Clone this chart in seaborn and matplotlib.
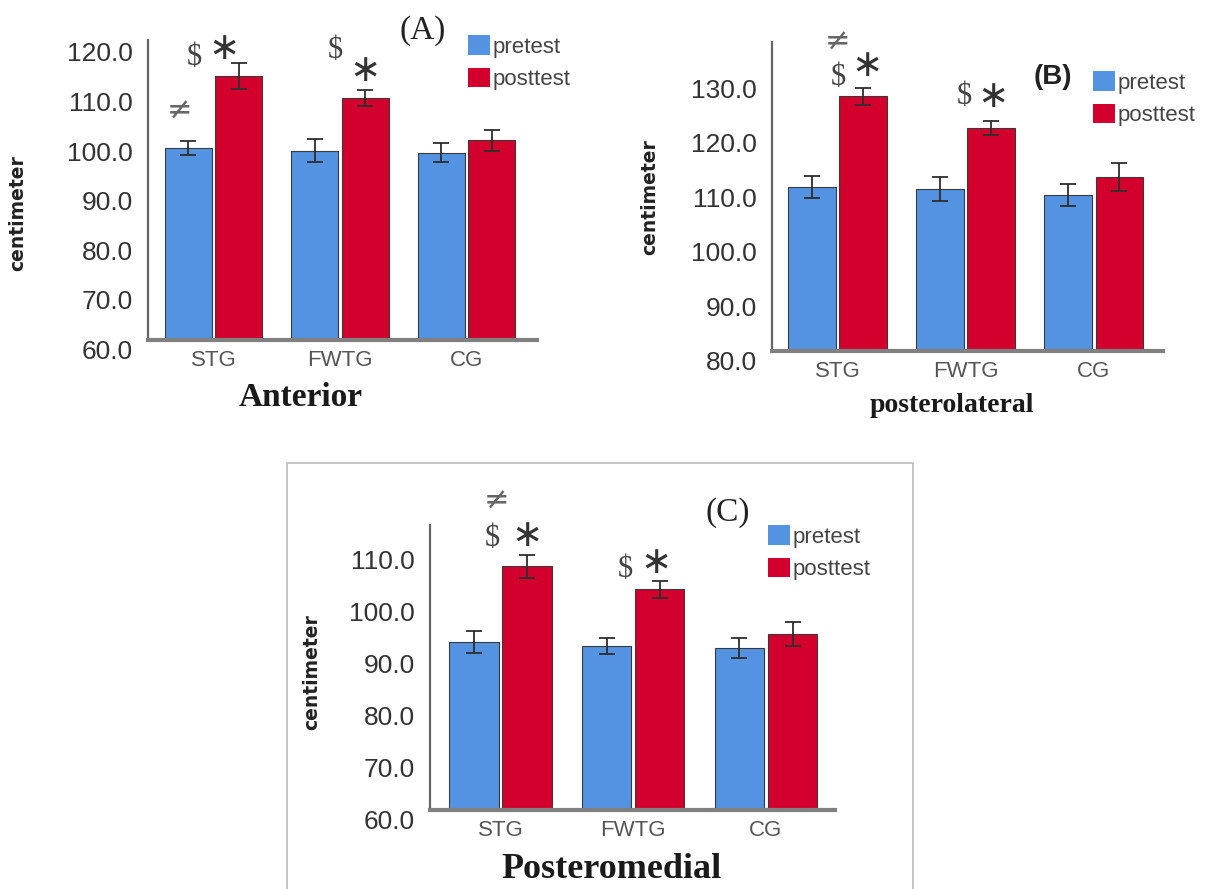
import numpy as np
import pandas as pd
import matplotlib
matplotlib.use("Agg")
import matplotlib.pyplot as plt
from matplotlib.patches import Patch, Rectangle
import seaborn as sns

# ---- data -------------------------------------------------------------
groups = ["STG", "FWTG", "CG"]
tests = ["pretest", "posttest"]

anterior_pre = [98.8, 98.2, 97.8]
anterior_post = [113.2, 108.8, 100.3]
anterior_pre_err = [1.4, 2.3, 2.0]
anterior_post_err = [2.6, 1.7, 2.1]

postlat_pre = [110.2, 109.7, 108.7]
postlat_post = [126.8, 121.0, 112.0]
postlat_pre_err = [2.0, 2.2, 2.0]
postlat_post_err = [1.5, 1.3, 2.6]

postmed_pre = [92.3, 91.6, 91.1]
postmed_post = [106.9, 102.4, 93.8]
postmed_pre_err = [2.1, 1.55, 1.9]
postmed_post_err = [2.2, 1.6, 2.35]

anterior_ticks = [60, 70, 80, 90, 100, 110, 120]
postlat_ticks = [80, 90, 100, 110, 120, 130]
postmed_ticks = [60, 70, 80, 90, 100, 110]

colors = {"pretest": "#5393E2", "posttest": "#D3002D"}

# ---- figure geometry (pixels) -----------------------------------------
W, H = 1209, 889
sns.set_style("white")
plt.rcParams["font.family"] = ["Liberation Sans", "DejaVu Sans"]

fig = plt.figure(figsize=(W / 100, H / 100), dpi=100)


def rect(x0, y0, x1, y1):
    return [x0 / W, 1 - y1 / H, (x1 - x0) / W, (y1 - y0) / H]


def fxy(x, y):
    return (x / W, 1 - y / H)


panels = [
    dict(pre=anterior_pre, post=anterior_post, pre_err=anterior_pre_err,
         post_err=anterior_post_err, ticks=anterior_ticks,
         box=(148, 40, 537, 340), xlim=(-0.52, 2.56), ylim=(60, 120.5),
         tag="(A)", tag_xy=(423, 31), tag_font=dict(family="Liberation Serif", size=24),
         legend_xy=(468, 35),
         xlabel="Anterior", xlabel_xy=(301, 398),
         xlabel_font=dict(family="Liberation Serif", size=24, weight="bold"),
         ylabel_xy=(18, 213),
         marks=[("\u2260", -0.27, 106.2), ("$", -0.15, 116.9), ("*", 0.08, 118.7),
                ("$", 0.96, 118.3), ("*", 1.20, 114.2)]),
    dict(pre=postlat_pre, post=postlat_post, pre_err=postlat_pre_err,
         post_err=postlat_post_err, ticks=postlat_ticks,
         box=(772, 42, 1163, 351), xlim=(-0.51, 2.54), ylim=(80, 136.8),
         tag="(B)", tag_xy=(1053, 77),
         tag_font=dict(family="Liberation Sans", size=20, weight="bold"),
         legend_xy=(1093, 71),
         xlabel="posterolateral", xlabel_xy=(952, 405),
         xlabel_font=dict(family="Liberation Serif", size=20, weight="bold"),
         ylabel_xy=(650, 197),
         marks=[("\u2260", 0.0, 136.8), ("$", 0.01, 130.2), ("*", 0.23, 132.4),
                ("$", 0.99, 126.7), ("*", 1.21, 126.7)]),
    dict(pre=postmed_pre, post=postmed_post, pre_err=postmed_pre_err,
         post_err=postmed_post_err, ticks=postmed_ticks,
         box=(430, 525, 835, 810), xlim=(-0.53, 2.52), ylim=(60, 114.8),
         tag="(C)", tag_xy=(728, 513), tag_font=dict(family="Liberation Serif", size=24),
         legend_xy=(768, 525),
         xlabel="Posteromedial", xlabel_xy=(611, 870),
         xlabel_font=dict(family="Liberation Serif", size=26, weight="bold"),
         ylabel_xy=(312, 672),
         marks=[("\u2260", -0.03, 119.4), ("$", -0.06, 112.3), ("*", 0.20, 112.7),
                ("$", 0.94, 106.2), ("*", 1.17, 107.5)]),
]

# frame around the lower panel
fig.patches.append(Rectangle(fxy(287, 900), (913 - 287) / W, (900 - 463) / H,
                             transform=fig.transFigure, fill=False,
                             edgecolor="#BBBBBB", linewidth=1.2, zorder=0))

for p in panels:
    ax = fig.add_axes(rect(*p["box"]))
    df = pd.DataFrame({
        "group": groups * 2,
        "test": ["pretest"] * 3 + ["posttest"] * 3,
        "value": list(p["pre"]) + list(p["post"]),
    })
    sns.barplot(data=df, x="group", y="value", hue="test", order=groups,
                hue_order=tests, palette=colors, saturation=1, errorbar=None,
                width=0.8, gap=0.07, edgecolor="#3a3a3a", linewidth=0.8,
                legend=False, ax=ax)

    errs = {"pretest": p["pre_err"], "posttest": p["post_err"]}
    for cont, t in zip(ax.containers, tests):
        xs = [b.get_x() + b.get_width() / 2 for b in cont]
        ys = [b.get_height() for b in cont]
        ax.errorbar(xs, ys, yerr=errs[t], fmt="none", ecolor="#2e2e2e",
                    elinewidth=1.3, capsize=5.5, capthick=1.3, zorder=5)

    ax.set_xlim(*p["xlim"])
    ax.set_ylim(*p["ylim"])
    ax.set_yticks(p["ticks"])
    ax.set_yticklabels([f"{v:.1f}" for v in p["ticks"]])
    for lbl in ax.get_yticklabels():
        lbl.set_va("top")
    ax.set_xlabel("")
    ax.set_ylabel("")
    ax.tick_params(axis="y", length=0, pad=11, labelsize=19, labelcolor="#333333")
    ax.tick_params(axis="x", length=0, pad=7, labelsize=16, labelcolor="#555555")
    sns.despine(ax=ax)
    ax.spines["left"].set_color("#666666")
    ax.spines["left"].set_linewidth(1.6)
    ax.spines["bottom"].set_color("#808080")
    ax.spines["bottom"].set_linewidth(3)

    # significance marks
    for s, mx, my in p["marks"]:
        if s == "*":
            ax.text(mx, my, "\u2217", ha="center", va="center", fontsize=27,
                    family="DejaVu Sans", color="#333333", clip_on=False)
        elif s == "$":
            ax.text(mx, my, "$", ha="center", va="center", fontsize=22,
                    family="Liberation Serif", color="#444444", clip_on=False)
        else:
            ax.text(mx, my, s, ha="center", va="center", fontsize=22,
                    family="DejaVu Sans", color="#666666", clip_on=False)

    # legend
    handles = [Patch(facecolor=colors[t], edgecolor="none") for t in tests]
    ax.legend(handles, tests, loc="upper left", bbox_to_anchor=fxy(*p["legend_xy"]),
              bbox_transform=fig.transFigure, frameon=False, fontsize=16,
              handlelength=1.0, handleheight=1.0, handletextpad=0.1,
              labelspacing=0.45, borderpad=0, borderaxespad=0,
              labelcolor="#444444")

    fig.text(*fxy(*p["tag_xy"]), p["tag"], ha="center", va="center",
             color="#222222", **p["tag_font"])
    fig.text(*fxy(*p["xlabel_xy"]), p["xlabel"], ha="center", va="center",
             color="#1a1a1a", **p["xlabel_font"])
    fig.text(*fxy(*p["ylabel_xy"]), "centimeter", ha="center", va="center",
             rotation=90, fontsize=13.5, fontweight="bold", family="DejaVu Sans",
             color="#222222")

fig.savefig("out.png", dpi=100)
